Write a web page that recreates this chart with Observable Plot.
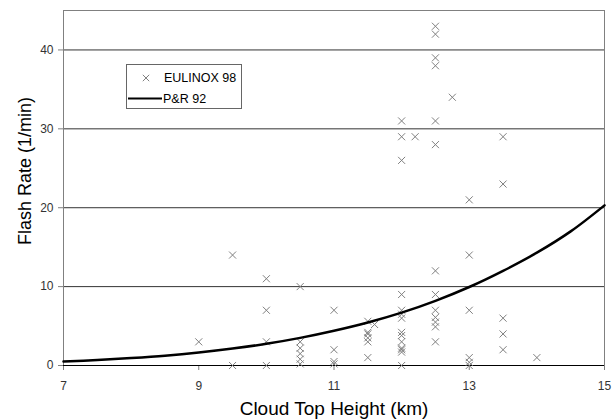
<!DOCTYPE html>
<html>
<head>
<meta charset="utf-8">
<script src="https://cdn.jsdelivr.net/npm/d3@7"></script>
<script src="https://cdn.jsdelivr.net/npm/@observablehq/plot@0.6"></script>
<style>
  html, body { margin: 0; padding: 0; background: #fff; }
  #wrap { position: relative; width: 613px; height: 419px; }
  #legend {
    position: absolute; left: 126px; top: 64px; width: 116px; height: 45px;
    border: 1px solid #666; background: #fff; box-sizing: border-box;
    font-family: "Liberation Sans", Arial, sans-serif; font-size: 12.5px; color: #000;
  }
</style>
</head>
<body>
<div id="wrap"></div>
<script>
// ---- data ----
const xTitle = "Cloud Top Height (km)";
const yTitle = "Flash Rate (1/min)";
const xTicks = [7, 9, 11, 13, 15];
const yTicks = [0, 10, 20, 30, 40];
const gridValues = [10, 20, 30, 40];
const seriesNames = ["EULINOX 98", "P&R 92"];

// EULINOX 98 observations (cloud top height km, flash rate 1/min)
const obsHeight = [
  9,
  9.5, 9.5,
  10, 10, 10, 10,
  10.5, 10.5, 10.5, 10.5, 10.5, 10.5,
  11, 11, 11, 11,
  11.5, 11.5, 11.5, 11.5, 11.5, 11.5, 11.6,
  12, 12, 12, 12, 12, 12, 12, 12, 12, 12, 12, 12, 12, 12,
  12.2,
  12.5, 12.5, 12.5, 12.5, 12.5, 12.5, 12.5, 12.5, 12.5, 12.5, 12.5, 12.5, 12.5,
  12.75,
  13, 13, 13, 13, 13, 13,
  13.5, 13.5, 13.5, 13.5, 13.5,
  14
];
const obsRate = [
  3,
  14, 0,
  11, 7, 3, 0,
  10, 3, 2.2, 1.5, 0.8, 0.2,
  7, 2, 0.5, 0.2,
  5.6, 4.2, 4, 3.5, 3, 1, 5.2,
  31, 29, 26, 9, 7, 6.5, 6, 4.2, 3.8, 3, 2.2, 2, 1.7, 0,
  29,
  43, 42, 39, 38, 31, 28, 12, 9, 7, 6.1, 5.5, 4.9, 3,
  34,
  21, 14, 7, 1, 0.4, 0,
  29, 23, 6, 4, 2,
  1
];

// P&R 92 curve
const curveHeight = [7, 7.5, 8, 8.5, 9, 9.5, 10, 10.5, 11, 11.5, 12, 12.5, 13, 13.5, 14, 14.5, 15];
const curveRate   = [0.5, 0.7, 0.95, 1.25, 1.65, 2.15, 2.75, 3.5, 4.4, 5.45, 6.7, 8.2, 9.95, 12.0, 14.3, 17.0, 20.3];

// ---- build tables ----
const obs = obsHeight.map((h, i) => ({h, f: obsRate[i]}));
const curve = curveHeight.map((h, i) => ({h, f: curveRate[i]}));

const font = "'Liberation Sans', Arial, sans-serif";

const chart = Plot.plot({
  width: 613,
  height: 419,
  marginLeft: 63,
  marginRight: 9,
  marginTop: 10,
  marginBottom: 54,
  style: {fontFamily: font, fontSize: "12px", background: "#fff", color: "#000", overflow: "visible"},
  x: {domain: [7, 15], label: null},
  y: {domain: [0, 45], label: null},
  marks: [
    Plot.ruleY(gridValues, {stroke: "#333", strokeWidth: 1}),
    Plot.frame({stroke: "#808080"}),
    Plot.axisX(xTicks, {tickSize: 5, tickPadding: 11, label: null, stroke: "#808080", fill: "#333", fontSize: 12}),
    Plot.axisY(yTicks, {tickSize: 5, tickPadding: 5, label: null, stroke: "#808080", fill: "#333", fontSize: 12}),
    Plot.ruleY([0], {stroke: "#000", strokeWidth: 1}),
    Plot.dot(obs, {x: "h", y: "f", symbol: "times", r: 3.3, stroke: "#808080", strokeWidth: 1}),
    Plot.line(curve, {x: "h", y: "f", stroke: "#000", strokeWidth: 2.5, curve: "catmull-rom"}),
    Plot.text([xTitle], {text: d => d, frameAnchor: "bottom", dy: 43, lineAnchor: "middle", fontSize: 19, fill: "#000"})
  ]
});

const wrap = document.getElementById("wrap");
wrap.appendChild(chart);

// y-axis title
d3.select(chart).append("text")
  .attr("transform", "translate(25,171) rotate(-90)")
  .attr("text-anchor", "middle")
  .attr("dy", "0.35em")
  .attr("font-family", font)
  .attr("font-size", 18)
  .attr("fill", "#000")
  .text(yTitle);

// ---- legend (HTML overlay) ----
const legend = d3.select(wrap).append("div").attr("id", "legend");
const lsvg = legend.append("svg").attr("width", 114).attr("height", 43).style("position", "absolute").style("left", "0").style("top", "0");
// row 1: times symbol
lsvg.append("path")
  .attr("d", d3.symbol(d3.symbolTimes, 3.0 * 3.0 * Math.PI)())
  .attr("transform", "translate(19,13)")
  .attr("fill", "none").attr("stroke", "#808080").attr("stroke-width", 1);
lsvg.append("text").attr("x", 37).attr("y", 13).attr("dy", "0.35em")
  .attr("font-family", font).attr("font-size", 12.5).text(seriesNames[0]);
// row 2: line
lsvg.append("line").attr("x1", 1).attr("x2", 35).attr("y1", 33.5).attr("y2", 33.5)
  .attr("stroke", "#000").attr("stroke-width", 2);
lsvg.append("text").attr("x", 36).attr("y", 33.5).attr("dy", "0.35em")
  .attr("font-family", font).attr("font-size", 12.5).text(seriesNames[1]);
</script>
</body>
</html>
